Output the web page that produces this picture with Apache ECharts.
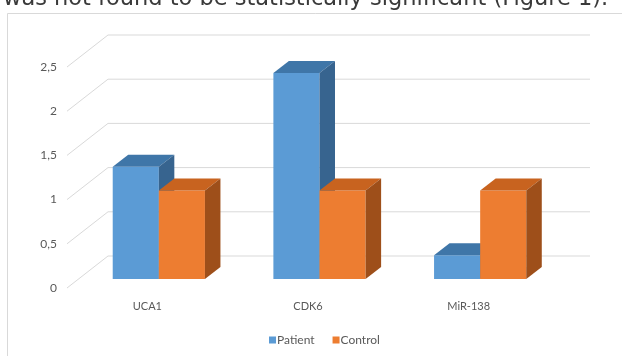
<!DOCTYPE html>
<html>
<head>
<meta charset="utf-8">
<script src="https://cdn.jsdelivr.net/npm/echarts@6/dist/echarts.min.js"></script>
<style>html,body{margin:0;padding:0;background:#fff}#c{width:622px;height:356px}</style>
</head>
<body>
<div id="c"></div>
<script>
const categories = ['UCA1', 'CDK6', 'MiR-138'];
const patient = [1.27, 2.33, 0.27];
const control = [1.0, 1.0, 1.0];
const yTicks = [0, 0.5, 1, 1.5, 2, 2.5];
const seriesNames = ['Patient', 'Control'];

// projection constants (styling)
const WDX = 41, WDY = -32;     // wall depth
const FX = 11.5, FY = -9;      // bar front offset from front plane
const BX = 15.5, BY = -12;     // bar depth
const BAR_FRAC = 0.287;

const colors = [
  { front: '#5B9BD5', top: '#3F76A8', side: '#37648F' },
  { front: '#ED7D31', top: '#C8631F', side: '#9E4F1A' }
];

function wallRender(params, api) {
  const cs = params.coordSys;
  const y = api.coord([0, api.value(1)])[1];
  return {
    type: 'polyline',
    shape: { points: [[cs.x, y], [cs.x + WDX, y + WDY], [cs.x + cs.width + WDX, y + WDY]] },
    style: { stroke: '#d9d9d9', lineWidth: 1, fill: null }
  };
}

function barRender(s) {
  return function (params, api) {
    const c = api.coord([api.value(0), api.value(1)]);
    const base = api.coord([api.value(0), 0]);
    const band = api.size([1, 0])[0];
    const w = band * BAR_FRAC;
    const x0 = c[0] - w + s * w + FX;
    const x1 = x0 + w;
    const yt = c[1] + FY, yb = base[1] + FY;
    const col = colors[s];
    return {
      type: 'group',
      children: [
        { type: 'polygon', shape: { points: [[x0, yt], [x1, yt], [x1, yb], [x0, yb]] }, style: { fill: col.front } },
        { type: 'polygon', shape: { points: [[x0, yt], [x0 + BX, yt + BY], [x1 + BX, yt + BY], [x1, yt]] }, style: { fill: col.top } },
        { type: 'polygon', shape: { points: [[x1, yt], [x1 + BX, yt + BY], [x1 + BX, yb + BY], [x1, yb]] }, style: { fill: col.side } }
      ]
    };
  };
}

const chart = echarts.init(document.getElementById('c'), null, { renderer: 'canvas' });
chart.setOption({
  animation: false,
  backgroundColor: '#fff',
  graphic: [
    { type: 'rect', silent: true, z: -10, shape: { x: 7.5, y: 13.5, width: 700, height: 400 }, style: { fill: null, stroke: '#d9d9d9', lineWidth: 1 } },
    { type: 'text', silent: true, x: 3, y: -1, style: { text: 'was not found to be statistically significant (Figure 1).', font: '22.5px "DejaVu Sans"', fill: '#3a3a3a', verticalAlign: 'middle' } }
  ],
  grid: { left: 67, right: 73, top: 67, bottom: 68 },
  legend: {
    data: seriesNames,
    bottom: 5,
    left: 264,
    icon: 'rect',
    itemWidth: 7,
    itemHeight: 7,
    itemGap: 18,
    textStyle: { fontSize: 12, color: '#595959', fontFamily: 'Lato', padding: [0, 0, 0, -4] }
  },
  xAxis: {
    type: 'category',
    data: categories,
    axisLine: { show: false },
    axisTick: { show: false },
    axisLabel: { margin: 13, fontSize: 11, color: '#595959', fontFamily: 'Lato' }
  },
  yAxis: {
    type: 'value',
    min: 0, max: 2.5, interval: 0.5,
    splitLine: { show: false },
    axisLine: { show: false },
    axisTick: { show: false },
    axisLabel: { margin: 10, fontSize: 12, color: '#595959', fontFamily: 'Lato', formatter: v => String(v).replace('.', ',') }
  },
  series: [
    { type: 'custom', name: 'walls', silent: true, renderItem: wallRender, data: yTicks.map(v => [0, v]), encode: { x: 0, y: 1 }, z: 1 },
    { type: 'custom', name: seriesNames[0], renderItem: barRender(0), itemStyle: { color: colors[0].front }, data: patient.map((v, i) => [i, v]), encode: { x: 0, y: 1 }, z: 2 },
    { type: 'custom', name: seriesNames[1], renderItem: barRender(1), itemStyle: { color: colors[1].front }, data: control.map((v, i) => [i, v]), encode: { x: 0, y: 1 }, z: 3 }
  ]
});
</script>
</body>
</html>
